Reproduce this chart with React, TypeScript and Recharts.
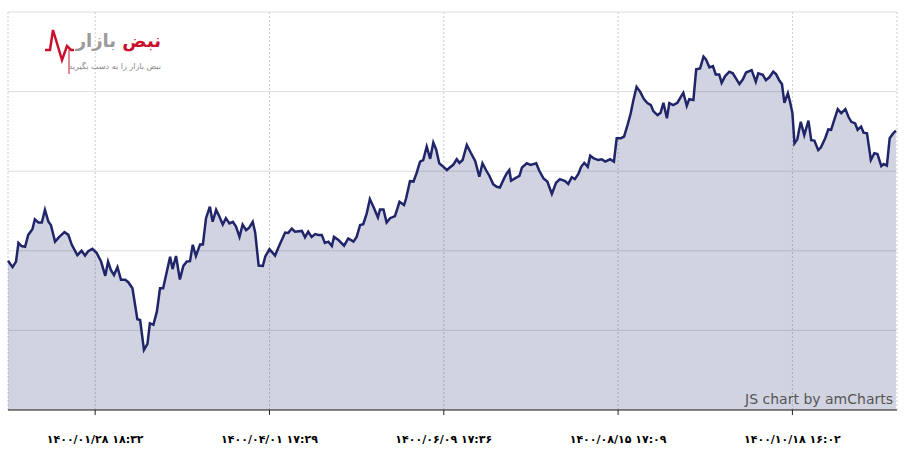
import { AreaChart, Area, XAxis, YAxis, CartesianGrid } from 'recharts';

// position along the series (data index, readings are not perfectly even)
const positions = [
  0, 1.3, 2.3, 3.0, 3.9, 4.9, 5.8, 7.0, 7.7, 8.7, 9.7, 10.6, 11.6, 12.3, 13.5, 14.7, 16.2, 17.3, 18.3, 19.9,
  21.1, 22.1, 23.0, 24.2, 25.4, 26.7, 27.9, 28.7, 29.5, 30.4, 31.4, 32.4, 33.6, 34.5, 35.7, 37.1, 37.9, 39.0, 40.0, 40.7,
  41.7, 42.7, 43.6, 44.5, 46.5, 47.2, 48.2, 49.3, 50.3, 51.3, 52.2, 53.0, 53.9, 55.1, 55.9, 56.8, 57.9, 58.7, 59.7, 60.6,
  61.6, 62.5, 63.5, 64.5, 65.4, 66.4, 67.3, 68.3, 69.2, 70.2, 70.9, 71.9, 73.1, 73.8, 75.0, 76.6, 78.0, 79.5, 80.4, 81.4,
  82.3, 84.3, 85.2, 86.1, 87.1, 88.1, 89.0, 90.0, 90.9, 91.9, 92.9, 93.5, 94.8, 96.4, 97.6, 99.1, 100.0, 101.0, 101.9, 102.9,
  103.8, 105.0, 106.1, 106.7, 107.7, 108.6, 109.6, 111.0, 112.3, 113.6, 114.2, 115.3, 116.3, 117.2, 118.2, 119.1, 120.1, 121.1, 122.0, 122.8,
  123.7, 124.9, 125.9, 126.8, 127.7, 128.7, 129.5, 130.4, 131.6, 132.7, 134.0, 135.2, 136.1, 137.1, 138.1, 139.2, 140.2, 141.1, 142.3, 143.1,
  143.8, 144.3, 145.4, 146.7, 147.4, 148.8, 149.9, 151.5, 152.4, 153.6, 154.7, 156.0, 157.2, 158.3, 159.8, 160.7, 161.7, 162.6, 163.6, 164.4,
  165.3, 166.3, 167.0, 167.9, 169.3, 170.3, 171.3, 172.7, 173.8, 174.6, 175.8, 176.7, 177.7, 178.6, 179.4, 180.3, 181.3, 182.4, 183.4, 184.4,
  185.1, 186.3, 187.2, 188.0, 189.0, 189.7, 190.8, 192.0, 193.0, 193.7, 194.7, 195.4, 196.6, 197.4, 198.5, 199.5, 200.2, 201.2, 202.2, 203.0,
  204.0, 204.7, 205.7, 206.9, 207.9, 208.8, 209.8, 210.8, 211.7, 213.3, 214.5, 215.2, 216.5, 217.4, 218.4, 219.5, 220.3, 221.3, 222.0, 222.7,
  223.7, 224.3, 225.0, 225.6, 226.4, 227.4, 228.4, 229.6, 230.4, 231.3, 232.4, 233.2, 234.4, 235.3, 236.1, 237.0, 238.0, 239.0, 240.2, 241.1,
  241.9, 243.0, 243.7, 244.7, 245.4, 246.4, 247.5, 248.5, 249.4, 250.5, 251.2, 252.1, 252.9, 253.9, 254.7,
];

const values = [
  37.5, 35.9, 37.3, 42.0, 41.2, 41.0, 44.0, 45.4, 47.9, 47.1, 47.1, 50.3, 47.3, 46.5, 42.3, 43.5, 44.7, 44.0, 41.5, 38.9,
  40.0, 38.8, 39.9, 40.5, 39.5, 37.3, 33.7, 37.3, 35.2, 33.9, 35.9, 32.7, 32.7, 32.1, 30.6, 22.8, 22.6, 15.1, 16.6, 21.8,
  21.4, 24.7, 30.6, 30.6, 38.5, 35.4, 38.7, 32.8, 36.2, 37.3, 37.4, 41.5, 38.7, 41.6, 41.6, 48.2, 51.1, 47.3, 50.3, 48.7,
  46.6, 48.2, 46.9, 47.3, 46.1, 43.5, 46.6, 45.2, 45.8, 47.3, 44.6, 36.3, 36.2, 38.6, 40.4, 38.8, 41.7, 44.6, 44.5, 45.6,
  44.8, 45.0, 43.4, 44.8, 43.5, 44.2, 44.0, 44.0, 42.0, 42.3, 41.2, 43.5, 42.7, 41.3, 43.1, 42.3, 43.5, 46.5, 46.7, 49.4,
  53.0, 50.7, 48.4, 50.4, 50.4, 47.1, 48.2, 48.7, 52.3, 51.5, 53.2, 57.5, 57.4, 59.5, 62.4, 62.8, 66.2, 63.1, 67.2, 65.5,
  62.0, 61.1, 60.3, 61.0, 61.6, 63.0, 62.1, 62.8, 66.6, 64.7, 62.6, 58.6, 62.0, 60.3, 58.8, 56.7, 56.1, 55.9, 58.2, 59.5,
  60.3, 57.6, 58.2, 58.8, 60.9, 62.0, 61.6, 62.0, 60.1, 58.2, 57.4, 54.3, 57.1, 58.0, 57.5, 56.8, 58.5, 58.0, 59.3, 61.1,
  62.1, 61.1, 63.9, 63.3, 62.8, 63.0, 62.4, 63.0, 62.4, 68.3, 68.3, 68.7, 71.6, 74.5, 77.9, 81.2, 80.0, 78.1, 77.1, 76.6,
  75.1, 74.1, 74.7, 77.2, 73.3, 77.1, 76.6, 77.2, 78.7, 79.7, 76.4, 78.1, 77.9, 85.6, 85.8, 88.8, 88.1, 86.1, 86.4, 84.3,
  84.3, 82.2, 83.9, 85.0, 84.6, 83.3, 81.9, 83.1, 84.8, 85.4, 82.5, 84.6, 84.2, 82.9, 83.6, 85.0, 84.4, 82.7, 81.9, 77.2,
  79.6, 77.5, 74.6, 67.0, 68.0, 72.4, 69.1, 72.7, 67.8, 67.7, 65.3, 66.0, 68.3, 70.5, 70.4, 72.9, 75.6, 74.6, 75.6, 73.6,
  72.4, 72.0, 70.4, 71.2, 69.7, 69.5, 62.8, 64.5, 64.3, 61.3, 61.8, 61.4, 68.3, 69.5, 70.2,
];

const tickPositions = [25, 75, 125, 175, 225];
const tickLabels = [
  '۱۴۰۰/۰۱/۲۸ ۱۸:۳۲',
  '۱۴۰۰/۰۴/۰۱ ۱۷:۲۹',
  '۱۴۰۰/۰۶/۰۹ ۱۷:۳۶',
  '۱۴۰۰/۰۸/۱۵ ۱۷:۰۹',
  '۱۴۰۰/۱۰/۱۸ ۱۶:۰۲',
];
const valueTicks = [0, 20, 40, 60, 80, 100];

const data = positions.map((t, i) => ({ t, value: values[i] }));

export default function App() {
  return (
    <div style={{ position: 'relative', width: 906, height: 454, background: '#fff' }}>
      <style>{'body{margin:0}'}</style>
      <AreaChart width={906} height={454} data={data} margin={{ top: 12, right: 9, left: 8, bottom: 0 }}>
        <CartesianGrid vertical={false} stroke="#dddddd" />
        <CartesianGrid horizontal={false} stroke="#cccccc" strokeDasharray="2 2" />
        <XAxis
          type="number"
          dataKey="t"
          domain={[0, 255]}
          ticks={tickPositions}
          interval={0}
          height={44}
          tickSize={5}
          tickMargin={20}
          axisLine={{ stroke: '#222' }}
          tickLine={{ stroke: '#222' }}
          tick={{ fill: '#000', fontSize: 11, fontWeight: 'bold', fontFamily: 'DejaVu Sans' }}
          tickFormatter={(v: number) => tickLabels[tickPositions.indexOf(v)] ?? ''}
        />
        <YAxis hide domain={[0, 100]} ticks={valueTicks} />
        <Area
          type="linear"
          dataKey="value"
          stroke="#20256a"
          strokeWidth={2.5}
          fill="#20256a"
          fillOpacity={0.2}
          dot={false}
          activeDot={false}
          isAnimationActive={false}
        />
      </AreaChart>
      {/* watermark logo */}
      <div style={{ position: 'absolute', left: 40, top: 24, width: 125, height: 52 }}>
        <svg width={125} height={52} style={{ position: 'absolute', left: 0, top: 0 }}>
          <polyline
            points="5,26 10,26 13,6 22,36 27,22 31,26 34,26"
            fill="none"
            stroke="#c8102e"
            strokeWidth={2.5}
          />
          <line x1={29} y1={26} x2={29} y2={50} stroke="#c8102e" strokeWidth={1} />
        </svg>
        <div
          dir="rtl"
          style={{
            position: 'absolute',
            right: 4,
            top: 4,
            fontFamily: 'DejaVu Sans',
            fontWeight: 'bold',
            fontSize: 18,
            lineHeight: '26px',
            color: '#9a9a9a',
            whiteSpace: 'nowrap',
          }}
        >
          <span style={{ color: '#c8102e' }}>نبض</span> بازار
        </div>
        <div
          dir="rtl"
          style={{
            position: 'absolute',
            right: 4,
            top: 38,
            fontFamily: 'DejaVu Sans',
            fontSize: 8,
            color: '#888',
            whiteSpace: 'nowrap',
          }}
        >
          نبض بازار را به دست بگیرید
        </div>
      </div>
      <div
        style={{
          position: 'absolute',
          right: 13,
          top: 391,
          fontFamily: 'DejaVu Sans',
          fontSize: 14,
          color: '#555',
          whiteSpace: 'nowrap',
        }}
      >
        JS chart by amCharts
      </div>
    </div>
  );
}
